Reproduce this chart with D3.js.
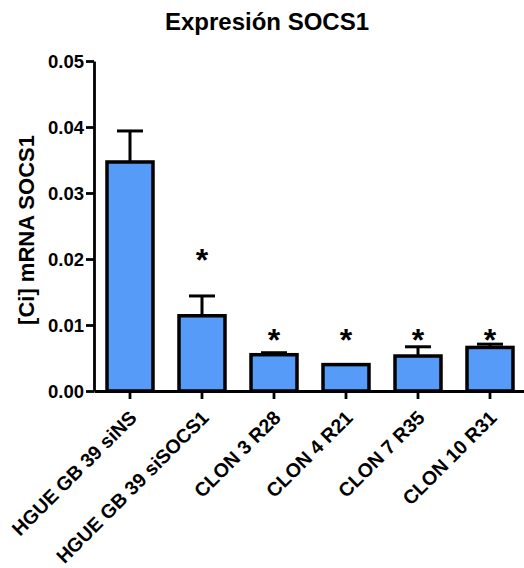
<!DOCTYPE html>
<html lang="es">
<head>
<meta charset="UTF-8">
<title>Expresión SOCS1</title>
<script src="https://d3js.org/d3.v7.min.js"></script>
<style>
    body { margin: 0; background: #fff; }
    svg text { font-family: 'Liberation Sans', Arial, sans-serif; font-weight: bold; fill: #000; }
    .axis path, .axis line { stroke: #000; stroke-width: 2.8px; }
    .axis text { font-size: 18.5px; }
    .x-axis text { font-size: 19.5px; }
</style>
</head>
<body>
<svg id="chart" width="524" height="568"></svg>
<script>
    // Data
    const categories = ["HGUE GB 39 siNS", "HGUE GB 39 siSOCS1", "CLON 3 R28", "CLON 4 R21", "CLON 7 R35", "CLON 10 R31"];
    const means = [0.0347, 0.0114, 0.0055, 0.0040, 0.0053, 0.0066];
    const errors = [0.0047, 0.0030, 0.0003, 0.0000, 0.0014, 0.0005];
    const significant = [false, true, true, true, true, true];
    const starLevel = [0, 0.0203, 0.0083, 0.0083, 0.0083, 0.0083];
    const yTicks = [0, 0.01, 0.02, 0.03, 0.04, 0.05];

    const svg = d3.select("#chart");

    const x = d3.scaleBand()
        .domain(categories)
        .range([94, 526])
        .padding(0);

    const y = d3.scaleLinear()
        .domain([0, 0.05])
        .range([391, 61]);

    const barW = 46;

    // axes
    svg.append("g")
        .attr("class", "axis")
        .attr("transform", "translate(94,0)")
        .call(d3.axisLeft(y).tickValues(yTicks).tickFormat(d3.format(".2f")).tickSize(8).tickPadding(2).tickSizeOuter(0))
        .call(g => g.selectAll("text").attr("dy", "0.36em"));

    const xAxis = svg.append("g")
        .attr("class", "axis x-axis")
        .attr("transform", "translate(0,391)")
        .call(d3.axisBottom(x).tickSize(8).tickSizeOuter(0));

    xAxis.selectAll("text")
        .attr("x", 0)
        .attr("y", 0)
        .attr("dy", 0)
        .attr("text-anchor", "end")
        .attr("transform", "translate(8,28) rotate(-45)");

    // error bars (drawn under the bars)
    const eb = svg.append("g");
    categories.forEach((c, i) => {
        if (errors[i] <= 0) return;
        const cx = x(c) + x.bandwidth() / 2;
        eb.append("line")
            .attr("x1", cx).attr("x2", cx)
            .attr("y1", y(means[i])).attr("y2", y(means[i] + errors[i]))
            .attr("stroke", "#000").attr("stroke-width", 3);
        eb.append("line")
            .attr("x1", cx - 13).attr("x2", cx + 13)
            .attr("y1", y(means[i] + errors[i])).attr("y2", y(means[i] + errors[i]))
            .attr("stroke", "#000").attr("stroke-width", 3);
    });

    // bars
    svg.append("g")
        .selectAll("rect")
        .data(categories)
        .enter()
        .append("rect")
        .attr("x", d => x(d) + (x.bandwidth() - barW) / 2)
        .attr("y", (d, i) => y(means[i]))
        .attr("width", barW)
        .attr("height", (d, i) => y(0) - y(means[i]))
        .attr("fill", "#559bf7")
        .attr("stroke", "#000")
        .attr("stroke-width", 3.5);

    // significance stars
    svg.append("g")
        .selectAll("text")
        .data(categories.filter((d, i) => significant[i]))
        .enter()
        .append("text")
        .attr("x", d => x(d) + x.bandwidth() / 2)
        .attr("y", d => y(starLevel[categories.indexOf(d)]))
        .attr("dy", "0.45em")
        .attr("text-anchor", "middle")
        .style("font-size", "32px")
        .style("font-weight", "bold")
        .text("*");

    // title and y label
    svg.append("text")
        .attr("x", 267)
        .attr("y", 30)
        .attr("text-anchor", "middle")
        .style("font-size", "24px")
        .text("Expresión SOCS1");

    svg.append("text")
        .attr("transform", "rotate(-90)")
        .attr("x", -230)
        .attr("y", 34)
        .attr("text-anchor", "middle")
        .style("font-size", "22px")
        .text("[Ci] mRNA SOCS1");
</script>
</body>
</html>
